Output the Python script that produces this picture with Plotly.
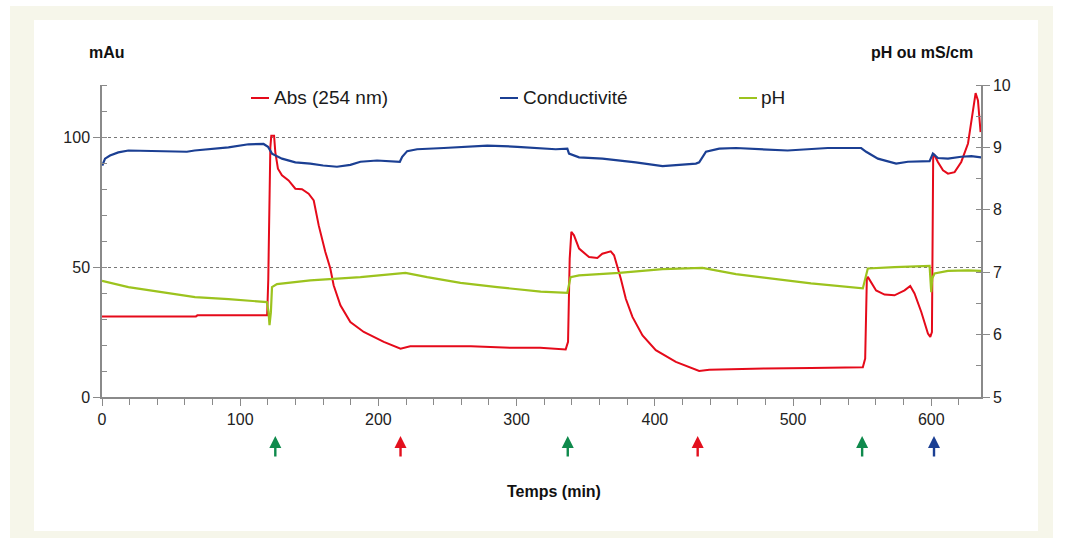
import plotly.graph_objects as go

# Run time (min) and absorbance at 254 nm (mAu)
abs_t = [0, 68, 69, 119.5, 120.3, 121, 121.8, 122.5, 124.5, 125.4, 127.3, 130.2, 135, 139.9,
         144.7, 149.5, 153.2, 156.8, 161.6, 165.2, 167.6, 172.5, 179.7, 189.4, 203.9, 216,
         223, 247, 267, 296, 317, 335.5, 337.2, 338.4, 339.6, 341.5, 345.2, 352.4, 358.4,
         362, 368.1, 370.5, 375.4, 379, 383.8, 391.1, 400.7, 415.2, 432.1, 439.4, 458.7,
         480, 513, 550.5, 552.2, 553.4, 554.1, 556.5, 560.1, 566.2, 573.4, 580.7, 584.8,
         587.9, 592.8, 597.6, 599.3, 600.5, 601.4, 602.4, 604.8, 608.5, 612.1, 616.9, 621.7,
         626.6, 630.2, 632.1, 633.8, 635.7]
abs_v = [31.0, 31.0, 31.4, 31.4, 45, 75, 96, 100.5, 100.5, 94.2, 87.8, 85.3, 83.3, 80.1,
         79.9, 78.2, 75.6, 66, 55.8, 49.4, 43, 35.3, 28.8, 25, 21.2, 18.6,
         19.5, 19.5, 19.5, 18.9, 18.9, 18.3, 21.2, 53.2, 63.5, 62.2, 57.1, 53.8, 53.5,
         55.1, 56, 54.5, 45.5, 37.8, 30.8, 23.7, 18, 13.5, 10, 10.5, 10.8,
         11.0, 11.2, 11.4, 14.8, 45.5, 46.2, 44.2, 41, 39.4, 39.1, 41, 42.7,
         39.8, 32.7, 24.4, 23.1, 25, 92.3, 93, 90.4, 87.2, 85.9, 86.5, 90.4,
         97.5, 110.3, 116.9, 114.1, 101.9]

# Conductivity (mS/cm)
cond_t = [0.2, 2.2, 5.8, 11.8, 19.1, 38.4, 61.4, 67, 91.5, 106, 116.9, 120.1, 123, 130.2,
          139.9, 150.7, 160, 170, 179.7, 187, 199, 215.5, 217.2, 220.8, 228, 247.3, 259.4,
          278.8, 300.5, 317.4, 328.3, 336.7, 337.9, 345.2, 362.1, 386.2, 405.6, 429.7,
          432.1, 437, 446.6, 458.7, 480.4, 496.1, 525.1, 549.3, 552.9, 561.4, 574.6, 583.1,
          598.8, 601.2, 604.8, 612.1, 621.7, 629, 636.2]
cond_v = [8.71, 8.82, 8.87, 8.92, 8.95, 8.94, 8.93, 8.95, 9.00, 9.05, 9.055, 9.01, 8.90, 8.82,
          8.76, 8.74, 8.71, 8.69, 8.72, 8.77, 8.79, 8.77, 8.85, 8.94, 8.97, 8.99, 9.01,
          9.03, 9.01, 8.99, 8.97, 8.98, 8.90, 8.84, 8.82, 8.76, 8.70, 8.74,
          8.76, 8.93, 8.98, 8.99, 8.97, 8.95, 8.99, 8.99, 8.93, 8.82, 8.74, 8.77,
          8.78, 8.90, 8.83, 8.82, 8.85, 8.86, 8.84]

# pH
ph_t = [0, 19.1, 43.2, 67.3, 91.5, 119.3, 120.5, 121.2, 122.2, 123, 126.6, 150.7, 187, 219.6,
        235.3, 259.4, 286, 317.4, 336.7, 337.9, 339, 345.2, 374.2, 405.6, 434.5, 458.7,
        480.4, 513, 550.5, 554.1, 573.4, 598.8, 600, 600.7, 602.4, 612.1, 626.6, 636.2]
ph_v = [6.86, 6.76, 6.68, 6.60, 6.57, 6.52, 6.36, 6.15, 6.36, 6.76, 6.81, 6.87, 6.92, 6.99,
        6.92, 6.83, 6.76, 6.69, 6.67, 6.79, 6.92, 6.95, 6.99, 7.05, 7.07, 6.97,
        6.91, 6.82, 6.74, 7.06, 7.08, 7.10, 6.68, 6.90, 6.98, 7.02, 7.03, 7.02]

# Event markers below the time axis (min)
event_t = [125.4, 216, 337, 431, 550, 602]
event_kind = ["green", "red", "green", "red", "green", "blue"]

series_names = ["Abs (254 nm)", "Conductivité", "pH"]

RED = "#e50a1a"
BLUE = "#1b3f93"
GREEN = "#9cc31e"
EVENT_COLORS = {"green": "#0f8a4c", "red": "#e3101e", "blue": "#1b3f93"}
FONT = "Liberation Sans, Arial, sans-serif"

W, H = 1067, 538
ML, MR, MT, MB = 102, 86, 85, 141
PW, PH = W - ML - MR, H - MT - MB


def px_x(px):
    return (px - ML) / PW


def px_y(py):
    return (H - MB - py) / PH


fig = go.Figure()

fig.add_trace(go.Scatter(x=abs_t, y=abs_v, mode="lines", name=series_names[0],
                         line=dict(color=RED, width=2), yaxis="y", showlegend=False))
fig.add_trace(go.Scatter(x=cond_t, y=cond_v, mode="lines", name=series_names[1],
                         line=dict(color=BLUE, width=2.2), yaxis="y2", showlegend=False))
fig.add_trace(go.Scatter(x=ph_t, y=ph_v, mode="lines", name=series_names[2],
                         line=dict(color=GREEN, width=2.2), yaxis="y2", showlegend=False))

shapes = [
    # cream frame and white card
    dict(type="rect", xref="paper", yref="paper", layer="below",
         x0=px_x(10), x1=px_x(1053), y0=px_y(6), y1=px_y(540),
         fillcolor="#f6f6ea", line=dict(width=0)),
    dict(type="rect", xref="paper", yref="paper", layer="below",
         x0=px_x(34), x1=px_x(1038), y0=px_y(20), y1=px_y(531),
         fillcolor="#ffffff", line=dict(width=0)),
]

annotations = []

# Legend row
legend_items = [(series_names[0], RED, 251, 272),
                (series_names[1], BLUE, 500, 521),
                (series_names[2], GREEN, 739, 759)]
for name, col, lx, tx in legend_items:
    shapes.append(dict(type="line", xref="paper", yref="paper",
                       x0=px_x(lx), x1=px_x(lx + 18), y0=px_y(98), y1=px_y(98),
                       line=dict(color=col, width=2)))
    annotations.append(dict(xref="paper", yref="paper", x=px_x(tx), y=px_y(98),
                            text=name, showarrow=False, xanchor="left", yanchor="middle",
                            font=dict(family=FONT, size=19, color="#1a1a1a")))

# Axis titles
annotations += [
    dict(xref="paper", yref="paper", x=px_x(107), y=px_y(53), text="<b>mAu</b>",
         showarrow=False, xanchor="center", yanchor="middle",
         font=dict(family=FONT, size=16, color="#111")),
    dict(xref="paper", yref="paper", x=px_x(922), y=px_y(53), text="<b>pH ou mS/cm</b>",
         showarrow=False, xanchor="center", yanchor="middle",
         font=dict(family=FONT, size=16, color="#111")),
    dict(xref="paper", yref="paper", x=px_x(554), y=px_y(491), text="<b>Temps (min)</b>",
         showarrow=False, xanchor="center", yanchor="middle",
         font=dict(family=FONT, size=16, color="#111")),
]

# Event arrows
for t, kind in zip(event_t, event_kind):
    annotations.append(dict(x=t, xref="x", yref="paper", y=px_y(436), text="",
                            showarrow=True, ax=0, ay=22, axref="pixel", ayref="pixel",
                            arrowhead=2, arrowsize=1, arrowwidth=2.4,
                            arrowcolor=EVENT_COLORS[kind], standoff=0))

axis_line = "#8a8a8a"
tick_font = dict(family=FONT, size=16, color="#222")

fig.update_layout(
    width=W, height=H,
    margin=dict(l=ML, r=MR, t=MT, b=MB),
    paper_bgcolor="#ffffff", plot_bgcolor="#ffffff",
    shapes=shapes, annotations=annotations,
    xaxis=dict(range=[0, 636], dtick=100, tick0=0, showgrid=False, zeroline=False,
               showline=True, linecolor=axis_line, linewidth=1.5,
               ticks="outside", ticklen=7, tickcolor=axis_line, tickwidth=1.3,
               minor=dict(dtick=20, ticks="outside", ticklen=6, tickcolor=axis_line,
                          tickwidth=1.3, showgrid=False),
               tickfont=tick_font),
    yaxis=dict(range=[0, 120], dtick=50, tick0=0, showgrid=True, gridcolor="#777",
               griddash="dot", gridwidth=1, zeroline=False,
               showline=True, linecolor=axis_line, linewidth=1.5,
               ticks="outside", ticklen=7, tickcolor=axis_line, tickwidth=1.3,
               minor=dict(dtick=10, ticks="inside", ticklen=5, tickcolor=axis_line,
                          tickwidth=1.3, showgrid=False),
               tickfont=tick_font),
    yaxis2=dict(range=[5, 10], dtick=1, tick0=5, overlaying="y", side="right",
                showgrid=False, zeroline=False,
                showline=True, linecolor=axis_line, linewidth=1.5,
                ticks="outside", ticklen=7, tickcolor=axis_line, tickwidth=1.3,
                minor=dict(dtick=0.5, ticks="inside", ticklen=5, tickcolor=axis_line,
                           tickwidth=1.3, showgrid=False),
                tickfont=tick_font),
)

fig.write_html("out.html")
